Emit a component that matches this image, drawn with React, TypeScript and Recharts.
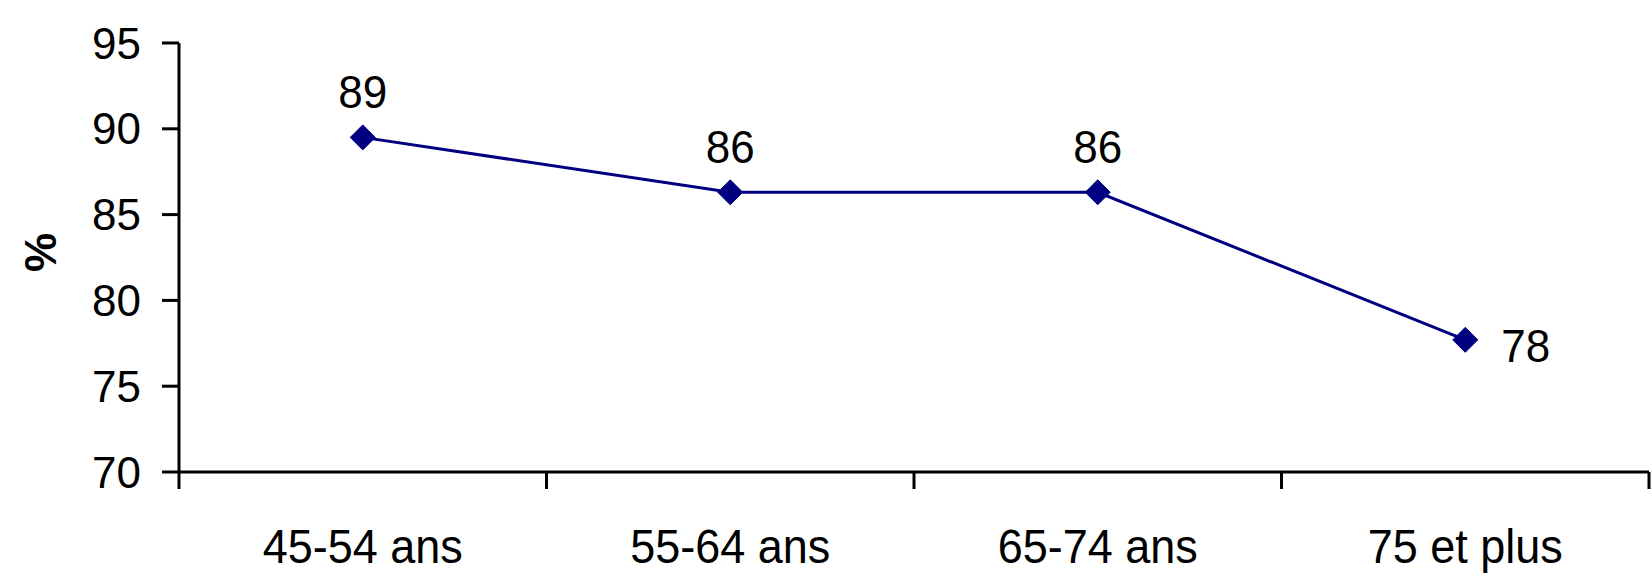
import React from 'react';
import { LineChart, Line, XAxis, YAxis, LabelList } from 'recharts';

const categories = ['45-54 ans', '55-64 ans', '65-74 ans', '75 et plus'];
const values = [89.5, 86.3, 86.3, 77.7];
const dataLabels = ['89', '86', '86', '78'];
const yTicks = [70, 75, 80, 85, 90, 95];
const xTicks = [0, 0.5, 1, 1.5, 2, 2.5, 3, 3.5, 4];

const data = categories.map((c, i) => ({ pos: i + 0.5, name: c, value: values[i], label: dataLabels[i] }));

const FONT = '"Liberation Sans", Arial, sans-serif';
const NAVY = '#000080';

const XTick = (props: any) => {
  const { x, y, payload } = props;
  const v = payload.value;
  if (Number.isInteger(v)) {
    return <line x1={x} x2={x} y1={y} y2={y + 17} stroke="#000" strokeWidth={3} />;
  }
  const idx = Math.floor(v);
  const by = y + 91;
  return (
    <text
      x={x}
      y={by}
      transform={`translate(0 ${by}) scale(1 1.08) translate(0 ${-by})`}
      textAnchor="middle"
      fontSize={45}
      fontFamily={FONT}
      fill="#000"
    >
      {categories[idx]}
    </text>
  );
};

const Diamond = (props: any) => {
  const { cx, cy } = props;
  if (cx == null || cy == null) return null;
  const r = 12.5;
  return (
    <polygon
      points={`${cx},${cy - r} ${cx + r},${cy} ${cx},${cy + r} ${cx - r},${cy}`}
      fill={NAVY}
      stroke={NAVY}
      strokeWidth={1}
    />
  );
};

const renderLabel = (props: any) => {
  const { x, y, index } = props;
  const text = dataLabels[index];
  const last = index === dataLabels.length - 1;
  const tx = last ? x + 36 : x;
  const ty = last ? y + 22 : y - 29;
  return (
    <text
      x={tx}
      y={ty}
      transform={`translate(0 ${ty}) scale(1 1.06) translate(0 ${-ty})`}
      textAnchor={last ? 'start' : 'middle'}
      fontSize={44}
      fontFamily={FONT}
      fill="#000"
    >
      {text}
    </text>
  );
};

export default function App() {
  return (
    <div style={{ position: 'absolute', left: 0, top: 0, background: '#fff' }}>
      <LineChart width={1652} height={578} data={data} margin={{ top: 43, right: 3, bottom: 0, left: 0 }}>
        <XAxis
          dataKey="pos"
          type="number"
          domain={[0, 4]}
          ticks={xTicks}
          interval={0}
          height={106}
          tickSize={0}
          tickMargin={0}
          tickLine={false}
          axisLine={{ stroke: '#000', strokeWidth: 3 }}
          tick={<XTick />}
        />
        <YAxis
          type="number"
          domain={[70, 95]}
          ticks={yTicks}
          interval={0}
          width={179}
          tickSize={17}
          tickMargin={21}
          axisLine={{ stroke: '#000', strokeWidth: 3 }}
          tickLine={{ stroke: '#000', strokeWidth: 3 }}
          tick={{ fontSize: 44, fontFamily: FONT, fill: '#000' }}
          label={{
            content: (p: any) => {
              const vb = p.viewBox || { x: 0, y: 43, width: 179, height: 429 };
              const cx = vb.x + 40;
              const cy = vb.y + vb.height / 2 - 5;
              return (
                <text
                  x={cx}
                  y={cy}
                  transform={`rotate(-90 ${cx} ${cy})`}
                  textAnchor="middle"
                  dominantBaseline="central"
                  fontSize={44}
                  fontWeight="bold"
                  fontFamily={FONT}
                  fill="#000"
                >
                  %
                </text>
              );
            },
          }}
        />
        <Line
          type="linear"
          dataKey="value"
          stroke={NAVY}
          strokeWidth={3}
          dot={<Diamond />}
          activeDot={false}
          isAnimationActive={false}
        >
          <LabelList dataKey="label" content={renderLabel} />
        </Line>
      </LineChart>
    </div>
  );
}
